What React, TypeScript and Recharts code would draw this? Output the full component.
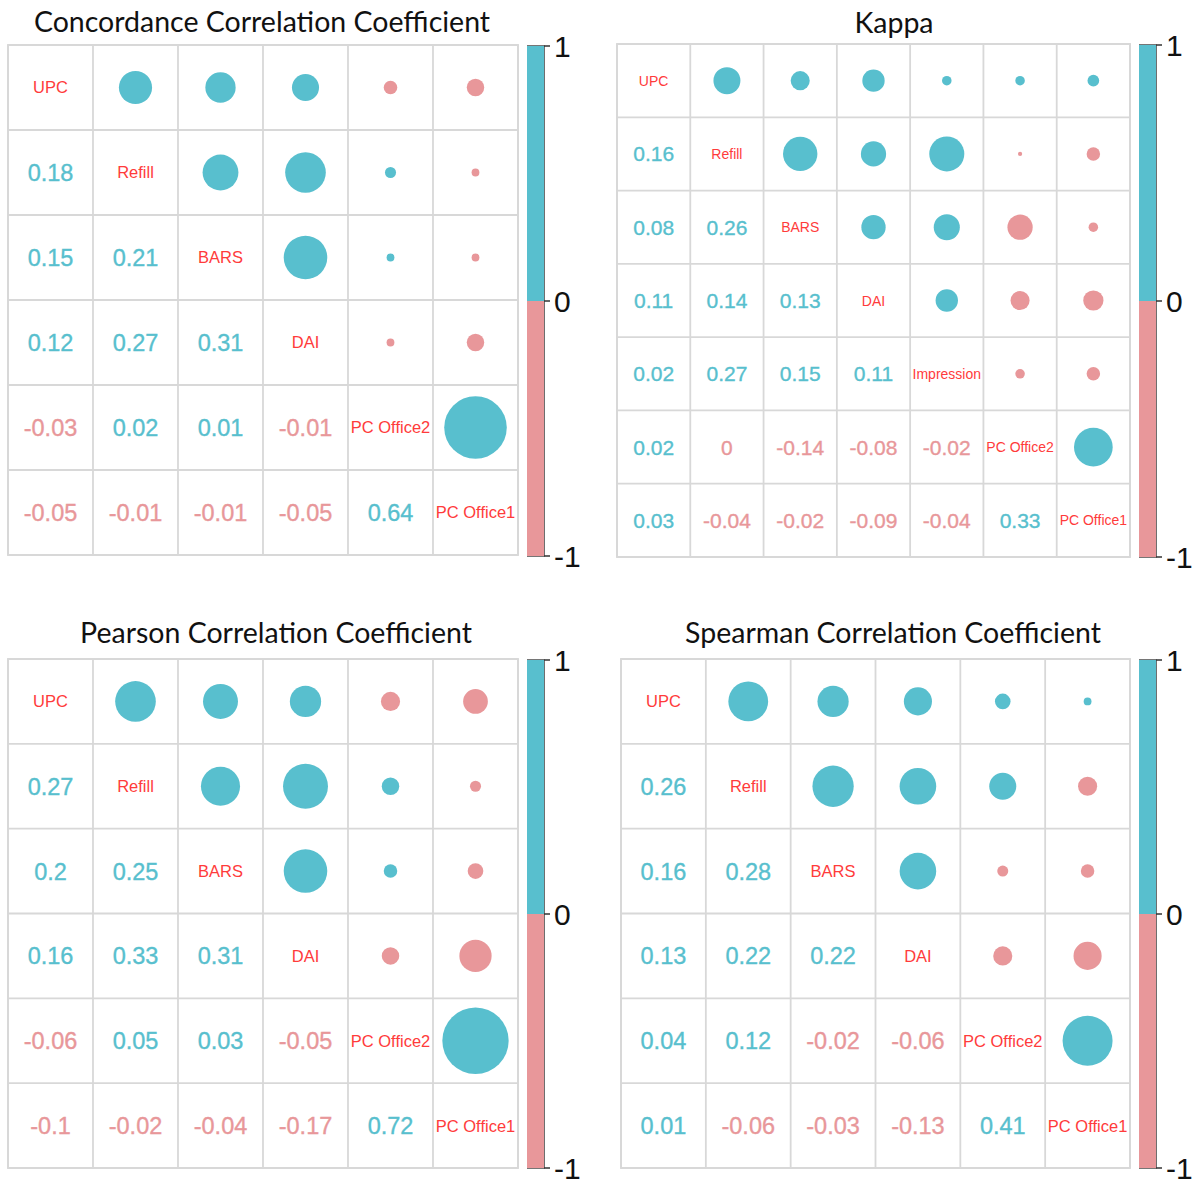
import React from 'react';
import {
  ScatterChart, Scatter, XAxis, YAxis, ZAxis, CartesianGrid, ReferenceArea,
  BarChart, Bar,
} from 'recharts';

// ---------- data ----------
const ccVars = ['UPC', 'Refill', 'BARS', 'DAI', 'PC Office2', 'PC Office1'];
const ccLower = [
  [0.18],
  [0.15, 0.21],
  [0.12, 0.27, 0.31],
  [-0.03, 0.02, 0.01, -0.01],
  [-0.05, -0.01, -0.01, -0.05, 0.64],
];

const kappaVars = ['UPC', 'Refill', 'BARS', 'DAI', 'Impression', 'PC Office2', 'PC Office1'];
const kappaLower = [
  [0.16],
  [0.08, 0.26],
  [0.11, 0.14, 0.13],
  [0.02, 0.27, 0.15, 0.11],
  [0.02, -0.004, -0.14, -0.08, -0.02],
  [0.03, -0.04, -0.02, -0.09, -0.04, 0.33],
];

const pearsonVars = ['UPC', 'Refill', 'BARS', 'DAI', 'PC Office2', 'PC Office1'];
const pearsonLower = [
  [0.27],
  [0.2, 0.25],
  [0.16, 0.33, 0.31],
  [-0.06, 0.05, 0.03, -0.05],
  [-0.1, -0.02, -0.04, -0.17, 0.72],
];

const spearmanVars = ['UPC', 'Refill', 'BARS', 'DAI', 'PC Office2', 'PC Office1'];
const spearmanLower = [
  [0.26],
  [0.16, 0.28],
  [0.13, 0.22, 0.22],
  [0.04, 0.12, -0.02, -0.06],
  [0.01, -0.06, -0.03, -0.13, 0.41],
];

const scaleTicks = [-1, 0, 1];
const scaleData = [{ name: 'scale', pos: 1, neg: -1 }];

// ---------- styles ----------
const BLUE = '#58BFCE';
const PINK = '#E8979A';
const LABEL_RED = '#FF3B3B';
const GRID = '#D8D8D8';
const ARIAL = "'Liberation Sans', Arial, sans-serif";
const TITLE_FONT = "Lato, 'Open Sans', sans-serif";

type Cell = { x: number; y: number; v: number; abs: number; kind: string; name: string };

function buildCells(vars: string[], lower: number[][]): Cell[] {
  const n = vars.length;
  const out: Cell[] = [];
  for (let i = 0; i < n; i++) {
    for (let j = 0; j < n; j++) {
      let kind = 'circle';
      let v = 0;
      let name = '';
      if (i === j) {
        kind = 'label';
        name = vars[i];
      } else if (i > j) {
        kind = 'num';
        v = lower[i - 1][j];
      } else {
        kind = 'circle';
        v = lower[j - 1][i];
      }
      out.push({ x: j + 0.5, y: i + 0.5, v, abs: kind === 'circle' ? Math.abs(v) : 0, kind, name });
    }
  }
  return out;
}

function fmt(v: number): string {
  return String(Number(v.toFixed(2)));
}

type PanelProps = {
  vars: string[];
  lower: number[][];
  title: string;
  titleX: number;
  titleY: number;
  titleSize: number;
  gx: number;
  gy: number;
  gw: number;
  gh: number;
  bx: number;
  by: number;
  bw: number;
  bh: number;
  numSize: number;
  labelSize: number;
};

function CorrPanel(p: PanelProps) {
  const n = p.vars.length;
  const cells = buildCells(p.vars, p.lower);
  const cellW = p.gw / n;
  const maxArea = Math.PI * Math.pow(0.46 * cellW, 2);
  const ticks = Array.from({ length: n + 1 }, (_, k) => k);
  const M = 2;

  const shape = (s: any) => {
    const d: Cell = s.payload;
    const cx = s.cx;
    const cy = s.cy;
    if (d.kind === 'label') {
      return (
        <text x={cx} y={cy} dy="0.36em" textAnchor="middle" fontFamily={ARIAL}
          fontSize={p.labelSize} fill={LABEL_RED}>{d.name}</text>
      );
    }
    const col = d.v > 0 ? BLUE : PINK;
    if (d.kind === 'num') {
      return (
        <text x={cx} y={cy} dy="0.36em" textAnchor="middle" fontFamily={ARIAL}
          fontSize={p.numSize} fill={col} stroke={col} strokeWidth={0.35}>{fmt(d.v)}</text>
      );
    }
    const r = s.width != null ? s.width / 2 : Math.sqrt(Math.max(s.size || 0, 0) / Math.PI);
    return <circle cx={cx} cy={cy} r={r} fill={col} />;
  };

  return (
    <>
      <svg style={{ position: 'absolute', left: p.titleX - 300, top: p.titleY - 40 }} width={600} height={50}>
        <text x={300} y={40} textAnchor="middle" fontFamily={TITLE_FONT} fontSize={p.titleSize} fill="#111">{p.title}</text>
      </svg>
      <div style={{ position: 'absolute', left: p.gx - M, top: p.gy - M }}>
        <ScatterChart width={p.gw + 2 * M} height={p.gh + 2 * M} margin={{ top: M, right: M, bottom: M, left: M }}>
          <CartesianGrid stroke={GRID} strokeWidth={1.8} fill="none" />
          <XAxis type="number" dataKey="x" domain={[0, n]} ticks={ticks} hide />
          <YAxis type="number" dataKey="y" domain={[0, n]} ticks={ticks} reversed hide />
          <ZAxis type="number" dataKey="abs" domain={[0, 1]} range={[0, maxArea]} />
          <ReferenceArea x1={0} x2={n} y1={0} y2={n} fill="none" stroke={GRID} strokeWidth={1.8} ifOverflow="visible" />
          <Scatter data={cells} shape={shape} isAnimationActive={false} />
        </ScatterChart>
      </div>
      <div style={{ position: 'absolute', left: p.bx, top: p.by - 20 }}>
        <BarChart width={p.bw + 50} height={p.bh + 40} data={scaleData} stackOffset="sign"
          barCategoryGap={0} margin={{ top: 20, right: 0, bottom: 20, left: 0 }}>
          <XAxis dataKey="name" hide />
          <YAxis orientation="right" type="number" domain={[-1, 1]} ticks={scaleTicks} width={50}
            axisLine={false} tickSize={6} tickMargin={4}
            tickLine={{ stroke: '#333', strokeWidth: 1.5 }}
            tick={{ fontSize: 30, fill: '#111', fontFamily: ARIAL }} />
          <Bar dataKey="pos" stackId="s" fill={BLUE} isAnimationActive={false} />
          <Bar dataKey="neg" stackId="s" fill={PINK} isAnimationActive={false} />
          <ReferenceArea y1={-1} y2={1} fill="none" stroke="#4A4A4A" strokeWidth={1.6} ifOverflow="visible" />
        </BarChart>
      </div>
    </>
  );
}

export default function App() {
  return (
    <div style={{ position: 'absolute', left: 0, top: 0, width: 1196, height: 1180, background: '#fff', overflow: 'hidden' }}>
      <CorrPanel vars={ccVars} lower={ccLower} title="Concordance Correlation Coefficient"
        titleX={262} titleY={32} titleSize={28.5}
        gx={8} gy={45} gw={510} gh={510}
        bx={527} by={46} bw={17} bh={510} numSize={23.5} labelSize={16.5} />
      <CorrPanel vars={kappaVars} lower={kappaLower} title="Kappa"
        titleX={894} titleY={33} titleSize={28.5}
        gx={617} gy={44} gw={513} gh={513}
        bx={1139} by={45} bw={17} bh={512} numSize={21} labelSize={14} />
      <CorrPanel vars={pearsonVars} lower={pearsonLower} title="Pearson Correlation Coefficient"
        titleX={276} titleY={643} titleSize={28.5}
        gx={8} gy={659} gw={510} gh={509}
        bx={527} by={660} bw={17} bh={508} numSize={23.5} labelSize={16.5} />
      <CorrPanel vars={spearmanVars} lower={spearmanLower} title="Spearman Correlation Coefficient"
        titleX={893} titleY={643} titleSize={28.5}
        gx={621} gy={659} gw={509} gh={509}
        bx={1139} by={660} bw={17} bh={508} numSize={23.5} labelSize={16.5} />
    </div>
  );
}
